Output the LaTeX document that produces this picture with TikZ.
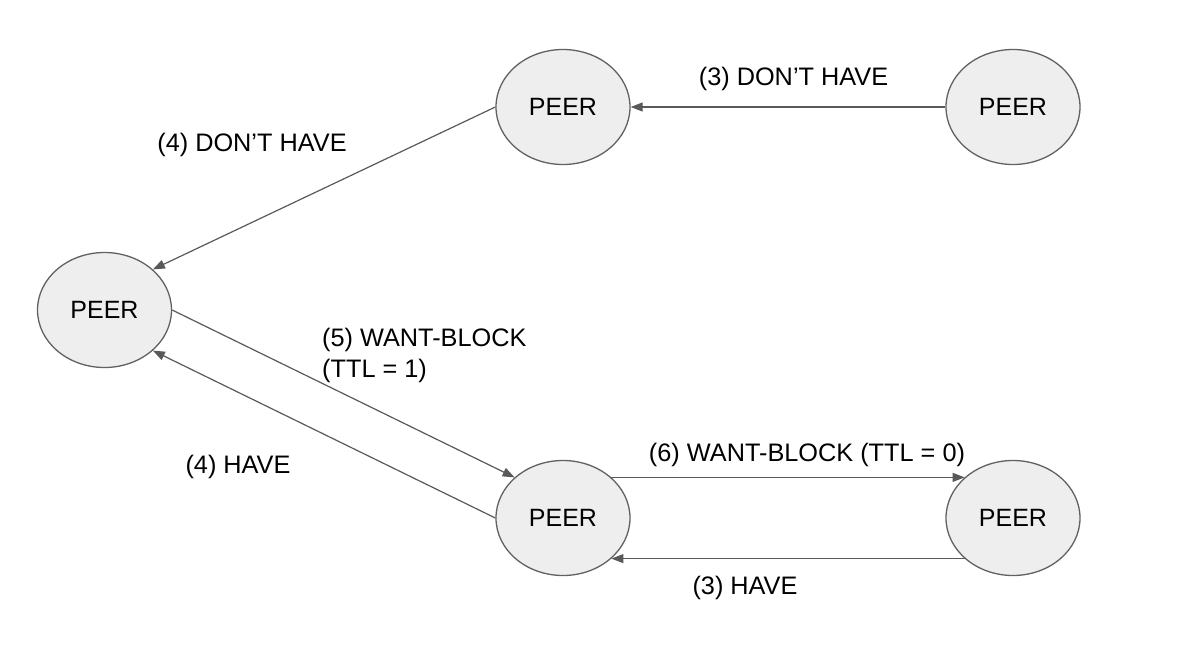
\documentclass[tikz,border=0pt]{standalone}
\usepackage{fontspec}
\setmainfont{Liberation Sans}
\usetikzlibrary{arrows.meta,shapes.geometric}
\definecolor{peerfill}{HTML}{EEEEEE}
\definecolor{peerdraw}{HTML}{616161}
\definecolor{linkcol}{HTML}{595959}
\begin{document}
\begin{tikzpicture}[x=1pt,y=-1pt,
  peer/.style={ellipse,draw=peerdraw,fill=peerfill,line width=1.3pt,minimum width=134pt,minimum height=115pt,inner sep=0pt,font=\fontsize{25}{29}\selectfont},
  link/.style={draw=linkcol,line width=1.2pt,-{Triangle[length=12pt,width=9pt]}},
  lbl/.style={font=\fontsize{25.3}{31}\selectfont,inner sep=0pt,text=black}]
\useasboundingbox (0,0) rectangle (1187,651);
\node[peer] (TM) at (563,107) {PEER};
\node[peer] (TR) at (1013,107) {PEER};
\node[peer] (L) at (104.5,310) {PEER};
\node[peer] (BM) at (563,518) {PEER};
\node[peer] (BR) at (1013,518) {PEER};
\draw[link] (TR.west) -- (TM.east);
\draw[link] (TM.west) -- (L.40);
\draw[link] (L.east) -- (BM.140);
\draw[link] (BM.west) -- (L.-40);
\draw[link] (BM.40) -- (BR.140);
\draw[link] (BR.220) -- (BM.-40);
\node[lbl] (l1) at (793.5,79) {(3) DON’T HAVE};
\node[lbl] (l2) at (252,145) {(4) DON’T HAVE};
\node[lbl,anchor=west,align=left] (l3) at (322,355.5) {(5) WANT-BLOCK\\(TTL = 1)};
\node[lbl] (l4) at (238,467) {(4) HAVE};
\node[lbl] (l5) at (807,455) {(6) WANT-BLOCK (TTL = 0)};
\node[lbl] (l6) at (745,588) {(3) HAVE};
\end{tikzpicture}
\end{document}
